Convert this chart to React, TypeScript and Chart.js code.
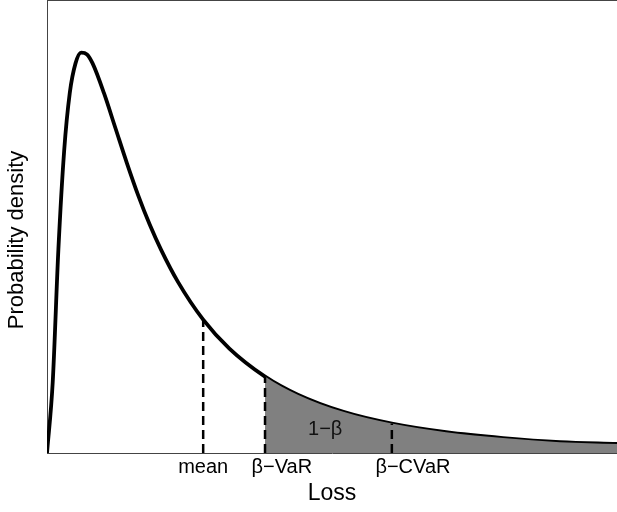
import React, { useEffect, useRef } from "react";
import { Chart, registerables } from "chart.js";

Chart.register(...registerables);

// Loss (x) and probability density (y)
const lossValues = [0, 0.1, 0.2, 0.3, 0.4, 0.5, 0.6, 0.7, 0.8, 1.0, 1.2, 1.4, 1.6, 1.8, 2.0, 2.3, 2.74, 3.2, 3.825, 4.4, 5.2, 6.05, 7, 8, 9, 10];
const densityValues = [0, 15.6, 45.1, 66.7, 79.7, 86.2, 88.6, 88.2, 86.2, 79.6, 71.9, 64.2, 57.0, 50.6, 45.0, 37.8, 29.5, 23.1, 16.9, 12.9, 9.1, 6.5, 4.6, 3.3, 2.4, 2.0];

// Marked positions (dashed lines) on the loss axis
const markerLoss = [2.74, 3.825, 6.05];
const markerDensity = [29.5, 16.9, 6.5];

// Axis labels under the markers and where their centres sit
const markerLabels = ["mean", "β−VaR", "β−CVaR"];
const markerLabelLoss = [2.74, 4.12, 6.42];

// Shaded tail starts at β-VaR
const tailStartLoss = 3.825;
const tailLabel = "1−β";
const tailLabelLoss = 4.88;
const tailLabelDensity = 5.1;

const xTitle = "Loss";
const yTitle = "Probability density";

const FONT = '"Liberation Sans", Arial, Helvetica, sans-serif';

export default function App() {
  const canvasRef = useRef<HTMLCanvasElement | null>(null);

  useEffect(() => {
    const canvas = canvasRef.current;
    if (!canvas) return;

    const curve = lossValues.map((x, i) => ({ x, y: densityValues[i] }));
    const tailIndex = lossValues.indexOf(tailStartLoss);

    const annotatePlugin = {
      id: "annotate",
      afterDatasetsDraw(chart: any) {
        const { ctx, chartArea, scales } = chart;
        const xs = scales.x;
        const ys = scales.y;
        ctx.save();
        // top frame line
        ctx.strokeStyle = "#444";
        ctx.lineWidth = 1;
        ctx.beginPath();
        ctx.moveTo(chartArea.left, chartArea.top - 0.5);
        ctx.lineTo(chartArea.right, chartArea.top - 0.5);
        ctx.stroke();
        // tail label
        ctx.fillStyle = "#111";
        ctx.font = `20px ${FONT}`;
        ctx.textAlign = "center";
        ctx.textBaseline = "middle";
        ctx.fillText(
          tailLabel,
          xs.getPixelForValue(tailLabelLoss),
          ys.getPixelForValue(tailLabelDensity)
        );
        ctx.restore();
      },
      afterDraw(chart: any) {
        const { ctx } = chart;
        ctx.save();
        ctx.fillStyle = "#000";
        ctx.font = `22px ${FONT}`;
        ctx.textAlign = "center";
        ctx.textBaseline = "middle";
        ctx.translate(17, 240);
        ctx.rotate(-Math.PI / 2);
        ctx.fillText(yTitle, 0, 0);
        ctx.restore();
      },
    };

    const dashed = markerLoss.map((x, i) => ({
      type: "line" as const,
      data: [
        { x, y: 0 },
        { x, y: markerDensity[i] },
      ],
      borderColor: "#000",
      borderWidth: 2.5,
      borderDash: [9, 5],
      pointRadius: 0,
      fill: false,
      order: 1,
    }));

    const chart = new Chart(canvas, {
      type: "line",
      data: {
        datasets: [
          {
            data: curve,
            borderColor: "#000",
            borderWidth: 3.8,
            pointRadius: 0,
            fill: false,
            cubicInterpolationMode: "monotone",
            order: 3,
          },
          {
            data: curve,
            borderColor: "rgba(0,0,0,0)",
            borderWidth: 0,
            backgroundColor: "rgba(0,0,0,0)",
            pointRadius: 0,
            fill: "origin",
            cubicInterpolationMode: "monotone",
            segment: {
              backgroundColor: (c: any) =>
                c.p0DataIndex >= tailIndex ? "#808080" : undefined,
            },
            order: 2,
          } as any,
          ...dashed,
        ],
      },
      options: {
        animation: false,
        responsive: false,
        events: [],
        layout: { padding: { top: 1, left: 0, right: 0, bottom: 0 } },
        plugins: {
          legend: { display: false },
          tooltip: { enabled: false },
        },
        scales: {
          x: {
            type: "linear",
            min: 0,
            max: 10,
            grid: { display: false, drawTicks: false },
            border: { display: true, color: "#444", width: 1 },
            afterBuildTicks: (scale: any) => {
              scale.ticks = markerLabelLoss.map((v) => ({ value: v }));
            },
            afterFit: (scale: any) => {
              scale.height = 59;
            },
            ticks: {
              autoSkip: false,
              maxRotation: 0,
              padding: 2,
              color: "#000",
              font: { family: FONT, size: 20 },
              callback: (_v: any, i: number) => markerLabels[i],
            },
            title: {
              display: true,
              text: xTitle,
              color: "#000",
              font: { family: FONT, size: 23 },
              padding: { top: 0, bottom: 5 },
            },
          },
          y: {
            type: "linear",
            min: 0,
            max: 100,
            grid: { display: false, drawTicks: false },
            border: { display: true, color: "#444", width: 1 },
            ticks: { display: false },
            afterFit: (scale: any) => {
              scale.width = 47;
            },
            title: { display: false, text: yTitle },
          },
        },
      },
      plugins: [annotatePlugin],
    } as any);

    return () => chart.destroy();
  }, []);

  return (
    <div style={{ position: "absolute", left: 0, top: 0, width: 617, height: 512, background: "#fff" }}>
      <canvas ref={canvasRef} width={617} height={512} />
    </div>
  );
}
